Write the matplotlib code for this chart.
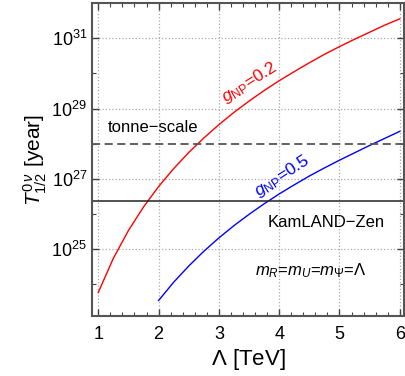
import matplotlib
matplotlib.use("Agg")
import matplotlib.pyplot as plt
from matplotlib.ticker import FixedLocator, MultipleLocator, NullFormatter

plt.rcParams['font.family'] = ['Liberation Sans', 'DejaVu Sans']
plt.rcParams['mathtext.fontset'] = 'custom'
plt.rcParams['mathtext.rm'] = 'Liberation Sans'
plt.rcParams['mathtext.it'] = 'Liberation Sans:italic'
plt.rcParams['mathtext.bf'] = 'Liberation Sans:bold'

# Lambda [TeV] and log10 of T_1/2 [year]
lam_red = [1.0, 1.25, 1.5, 1.75, 2.0, 2.25, 2.5, 2.75, 3.0, 3.25, 3.5,
           3.75, 4.0, 4.25, 4.5, 4.75, 5.0, 5.25, 5.5, 5.75, 6.0]
logT_red = [23.77, 24.74, 25.53, 26.20, 26.78, 27.29, 27.75, 28.16, 28.54, 28.89, 29.21,
            29.51, 29.79, 30.05, 30.30, 30.54, 30.76, 30.97, 31.17, 31.37, 31.55]

lam_blue = [2.0, 2.25, 2.5, 2.75, 3.0, 3.25, 3.5, 3.75, 4.0,
            4.25, 4.5, 4.75, 5.0, 5.25, 5.5, 5.75, 6.0]
logT_blue = [23.54, 24.06, 24.52, 24.94, 25.32, 25.67, 25.99, 26.29, 26.57,
             26.83, 27.08, 27.31, 27.53, 27.74, 27.95, 28.15, 28.35]

kamland = 2.3e26
tonne = 1e28

y_major = [1e25, 1e27, 1e29, 1e31]
y_minor = [1e24, 1e26, 1e28, 1e30]
y_labels = ['$10^{25}$', '$10^{27}$', '$10^{29}$', '$10^{31}$']
x_major = [1, 2, 3, 4, 5, 6]


def main():
    fig = plt.figure(figsize=(4.06, 3.76), dpi=100)
    ax = fig.add_axes([0.2266, 0.1596, 0.7685, 0.8324])

    ax.semilogy(lam_red, [10 ** v for v in logT_red], color='red', lw=1.0)
    ax.semilogy(lam_blue, [10 ** v for v in logT_blue], color='blue', lw=1.0)
    ax.axhline(kamland, color='#222222', lw=1.1)
    ax.axhline(tonne, color='#555555', lw=1.3, ls=(0, (4.5, 2.5)))

    ax.set_xlim(0.896, 6.07)
    ax.set_ylim(10 ** 23.1, 10 ** 32.0)

    ax.xaxis.set_major_locator(FixedLocator(x_major))
    ax.xaxis.set_minor_locator(MultipleLocator(0.2))
    ax.yaxis.set_major_locator(FixedLocator(y_major))
    ax.yaxis.set_minor_locator(FixedLocator(y_minor))
    ax.yaxis.set_minor_formatter(NullFormatter())
    ax.set_yticklabels(y_labels)
    ax.set_xticklabels([str(v) for v in x_major])

    ax.tick_params(which='both', direction='in', top=True, right=True,
                   color='#444444', labelsize=13)
    ax.tick_params(which='major', length=5, width=1)
    ax.tick_params(which='minor', length=3, width=0.8)
    ax.tick_params(axis='x', which='major', pad=7)
    ax.grid(True, which='major', ls=':', color='#aaaaaa', lw=0.9)
    for s in ax.spines.values():
        s.set_color('#555555')
        s.set_linewidth(1.5)

    ax.set_xlabel('$\\Lambda$ [TeV]', fontsize=16, labelpad=3)
    ax.set_ylabel('$T^{0\\,\\nu}_{1/2}$ [year]', fontsize=15, labelpad=2)

    ax.text(1.16, 10 ** 28.45, 'tonne\u2212scale', fontsize=12, va='center', ha='left')
    ax.text(4.78, 10 ** 25.76, 'KamLAND\u2212Zen', fontsize=12, va='center', ha='center')
    ax.text(4.53, 10 ** 24.39, '$m_R$=$m_U$=$m_\\Psi$=$\\Lambda$', fontsize=12,
            va='center', ha='center')
    ax.text(3.51, 10 ** 29.73, '$g_{\\rm NP}$=0.2', color='red', fontsize=12.5,
            rotation=32, va='center', ha='center')
    ax.text(4.04, 10 ** 27.07, '$g_{\\rm NP}$=0.5', color='blue', fontsize=12.5,
            rotation=33, va='center', ha='center')

    fig.savefig('out.png', dpi=100)


if __name__ == '__main__':
    main()
